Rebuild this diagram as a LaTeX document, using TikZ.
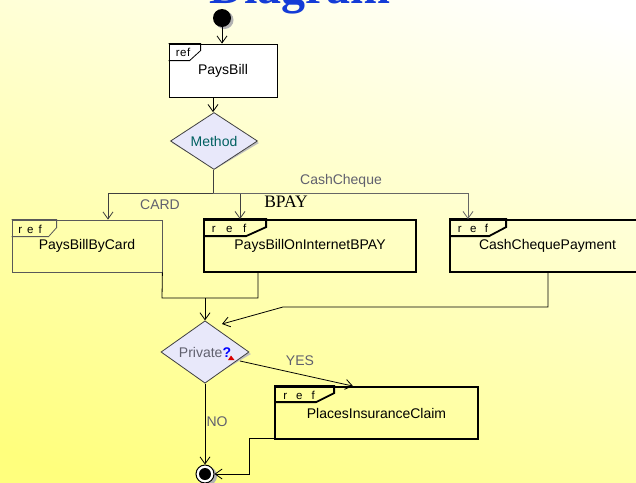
\documentclass[tikz,border=0pt]{standalone}
\usepackage{fontspec}
\setmainfont{Liberation Sans}
\newfontfamily\serifT{Liberation Serif}
\usetikzlibrary{arrows.meta,shapes.geometric}
\definecolor{bgy}{RGB}{255,255,125}
\definecolor{lbl}{RGB}{96,96,110}
\definecolor{dlav}{RGB}{232,232,250}
\definecolor{ttl}{RGB}{20,60,215}
\definecolor{tealtxt}{RGB}{0,96,96}
\newcommand\refsp[1]{r\hspace{#1}e\hspace{#1}f}
\begin{document}
\begin{tikzpicture}[x=1pt,y=-1pt,
  every node/.style={font=\fontsize{14}{16}\selectfont},
  arr/.style={-{Straight Barb[length=7pt,width=10pt]}, line width=0.8pt},
  ln/.style={line width=0.8pt},
  thinbox/.style={draw, line width=0.8pt, inner sep=0pt},
  thickbox/.style={draw, line width=1.8pt, inner sep=0pt},
  dia/.style={diamond, draw=black!75, fill=dlav, line width=0.8pt, inner sep=0pt},
  diashadow/.style={diamond, fill=black!25, inner sep=0pt},
  lab/.style={text=lbl},
  tabtxt/.style={font=\fontsize{11.5}{13}\selectfont},
]
\useasboundingbox (0,0) rectangle (636,482);
\shade[top color=white, bottom color=bgy, shading angle=-20] (-60,-40) rectangle (700,520);
\node[anchor=base, font=\serifT\bfseries\fontsize{48}{50}\selectfont, text=ttl] (title) at (300,3) {Diagram};

% initial
\fill[black!30] (224.5,20) circle (9);
\node[circle, fill=black, minimum size=18pt, inner sep=0pt] (start) at (222,18) {};

% PaysBill
\node[thinbox, fill=white, minimum width=108pt, minimum height=53pt] (pb) at (223,70.5) {PaysBill};
\draw[ln] (pb.north west) -- ++(32,0) -- ++(0,7) -- ++(-11,10) -- ++(-21,0);
\node[tabtxt] (pbref) at (183,52) {r\hspace{0.5pt}e\hspace{0.5pt}f};
\draw[arr] (start.south) -- (start.south |- pb.north);

% Method
\node[diashadow, minimum width=87pt, minimum height=52pt] (methsh) at (215.5,143) {};
\node[dia, minimum width=87pt, minimum height=52pt, text=tealtxt] (method) at (214,141) {Method};
\draw[arr] ([xshift=-10pt]pb.south) -- ([xshift=-1pt]method.north);

% branch boxes
\node[thinbox, draw=black!65, minimum width=150pt, minimum height=52pt] (card) at (87,246) {PaysBillByCard};
\draw[ln, draw=black!65] (card.north west) -- ++(45,0) -- ++(0,8) -- ++(-8,9) -- ++(-37,0);
\node[tabtxt] (cardref) at (30,229) {\refsp{5pt}};

\node[thickbox, minimum width=212pt, minimum height=52pt] (bpay) at (310,246) {PaysBillOnInternetBPAY};
\draw[line width=1.8pt] (bpay.north west) -- ++(63,0) -- ++(0,8) -- ++(-20,9) -- ++(-43,0);
\node[tabtxt] (bpayref) at (229,228) {\refsp{10.5pt}};

\node[thickbox, minimum width=195pt, minimum height=52pt] (cash) at (547.5,246) {CashChequePayment};
\draw[line width=1.8pt] (cash.north west) -- ++(57,0) -- ++(0,8) -- ++(-17,9) -- ++(-40,0);
\node[tabtxt] (cashref) at (473,228) {\refsp{8.4pt}};

% fork
\coordinate (fork) at (213,193);
\draw[ln, draw=black!75] (method.south -| fork) -- (fork);
\draw[arr, draw=black!75] (fork) -| ([xshift=21pt]card.north);
\draw[arr, draw=black!75] (fork) -| ([xshift=-70pt]bpay.north);
\draw[arr, draw=black!60] (fork) -| ([xshift=-79.5pt]cash.north);
\node[lab] (lcard) at (160,205) {CARD};
\node[font=\serifT\fontsize{17.5}{19}\selectfont] (lbpay) at (286,202) {BPAY};
\node[lab] (lcash) at (341,181) {CashCheque};

% Private
\node[diashadow, minimum width=88pt, minimum height=52pt] (privsh) at (207,354) {};
\node[dia, minimum width=88pt, minimum height=52pt] (priv) at (205,352) {\textcolor{lbl}{Private}\textcolor{blue}{\textbf{?}}};
\fill[red!85!black] (228,360) -- (234.5,360) -- (231,355.5) -- cycle;

% merges
\coordinate (j0) at (205,298);
\coordinate (j1) at (162,298);
\coordinate (j2) at (258,298);
\draw[ln] (card.south east) -- (j1) -- (j2) -- (j2 |- bpay.south);
\draw[arr] (j0) -- (priv.north);
\coordinate (c1) at (548,307);
\coordinate (c2) at (283,307);
\coordinate (c3) at (222,324);
\draw[arr] (c1 |- cash.south) -- (c1) -- (c2) -- (c3);

% Places
\node[thickbox, minimum width=203pt, minimum height=52pt] (places) at (376.5,413) {PlacesInsuranceClaim};
\draw[line width=1.8pt] (places.north west) -- ++(60,0) -- ++(0,7) -- ++(-18,9) -- ++(-42,0);
\node[tabtxt] (plref) at (299,395) {\refsp{9pt}};
\coordinate (ys) at (240,361);
\draw[arr] (ys) -- ([xshift=-23.5pt]places.north);
\node[lab] (lyes) at (300,361) {YES};

% final
\fill[black!30] (207.5,476) circle (9.5);
\node[circle, draw, line width=1pt, fill=white, minimum size=18pt, inner sep=0pt] (fin) at (205,474) {};
\fill (fin.center) circle (6);
\draw[arr] (priv.south) -- (fin.north);
\node[lab] (lno) at (217,422) {NO};
\coordinate (f1) at (249,438);
\draw[arr] (places.south west |- f1) -- (f1) |- (fin.east);
\end{tikzpicture}
\end{document}
